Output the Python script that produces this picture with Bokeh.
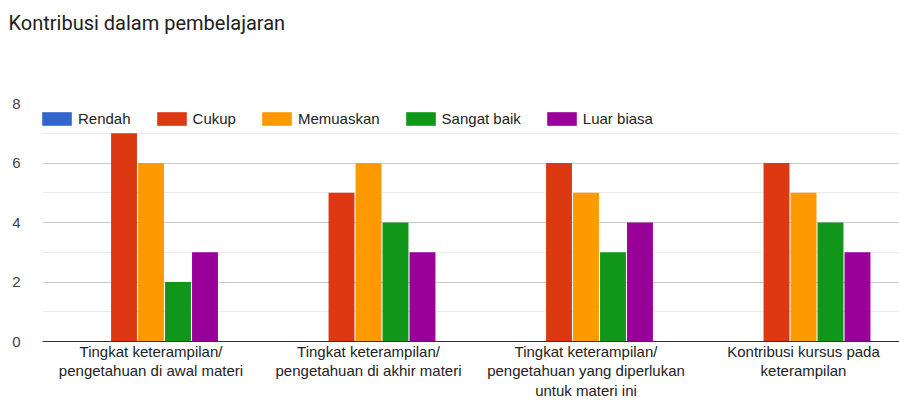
from bokeh.plotting import figure
from bokeh.models import (Range1d, FixedTicker, SingleIntervalTicker, Legend,
                          LegendItem, ColumnDataSource, Title)
from bokeh.transform import dodge
from bokeh.embed import file_html
from bokeh.resources import INLINE

title = "Kontribusi dalam pembelajaran"
categories = [
    "Tingkat keterampilan/\npengetahuan di awal materi",
    "Tingkat keterampilan/\npengetahuan di akhir materi",
    "Tingkat keterampilan/\npengetahuan yang diperlukan\nuntuk materi ini",
    "Kontribusi kursus pada\nketerampilan",
]
series = ["Rendah", "Cukup", "Memuaskan", "Sangat baik", "Luar biasa"]
rendah = [0, 0, 0, 0]
cukup = [7, 5, 6, 6]
memuaskan = [6, 6, 5, 5]
sangat_baik = [2, 4, 3, 4]
luar_biasa = [3, 3, 4, 3]
colors = ["#3366cc", "#dc3912", "#ff9900", "#109618", "#990099"]

values = [rendah, cukup, memuaskan, sangat_baik, luar_biasa]
keys = ["s0", "s1", "s2", "s3", "s4"]
xs = list(range(len(categories)))
data = {"x": xs}
for k, v in zip(keys, values):
    data[k] = v
src = ColumnDataSource(data)

W, H = 899, 401
p = figure(width=W, height=H, output_backend="svg", toolbar_location=None,
           x_range=Range1d(-0.4989, 3.4414), y_range=Range1d(0, 8),
           min_border_left=42, min_border_right=0, min_border_top=103,
           min_border_bottom=59)
p.outline_line_color = None

# real title (outermost panel)
p.title.text = title
p.title.text_font = "Roboto"
p.title.text_font_size = "20px"
p.title.text_font_style = "normal"
p.title.text_color = "#212121"
p.title.align = "left"
p.title.offset = -34
p.title.standoff = 0

# spacer between title and plot frame
p.add_layout(Title(text=" ", text_font="Roboto", text_font_size="20px",
                   standoff=43), "above")

step = 0.1241
renderers = []
for j, (k, c) in enumerate(zip(keys, colors)):
    r = p.vbar(x=dodge("x", (j - 2) * step, range=p.x_range), top=k, width=step - 0.005,
               source=src, fill_color=c, line_color=None)
    renderers.append(r)

# y axis
p.yaxis.ticker = SingleIntervalTicker(interval=2, num_minor_ticks=2)
p.yaxis.axis_line_color = None
p.yaxis.major_tick_line_color = None
p.yaxis.minor_tick_line_color = None
p.yaxis.major_label_standoff = 16
p.yaxis.major_label_text_font = "Liberation Sans"
p.yaxis.major_label_text_font_size = "15px"
p.yaxis.major_label_text_color = "#444444"

# x axis with category labels
p.xaxis.ticker = FixedTicker(ticks=xs)
p.xaxis.major_label_overrides = {x: c for x, c in zip(xs, categories)}
p.xaxis.axis_line_color = "#333333"
p.xaxis.axis_line_width = 1
p.xaxis.major_tick_line_color = None
p.xaxis.minor_tick_line_color = None
p.xaxis.major_tick_out = 0
p.xaxis.major_label_standoff = 1
p.xaxis.major_label_text_font = "Liberation Sans"
p.xaxis.major_label_text_font_size = "15px"
p.xaxis.major_label_text_line_height = 1.15
p.xaxis.major_label_text_color = "#222222"

p.xgrid.grid_line_color = None
p.ygrid.grid_line_color = "#cccccc"
p.ygrid.minor_grid_line_color = "#ebebeb"

legend = Legend(items=[LegendItem(label=s, renderers=[r]) for s, r in zip(series, renderers)],
                orientation="horizontal", location=(-4, 214), padding=0, margin=0,
                glyph_width=37, glyph_height=17, label_height=17, label_standoff=3,
                spacing=22, border_line_color=None, background_fill_alpha=0,
                label_text_font="Liberation Sans", label_text_font_size="15px",
                label_text_color="#222222")
p.add_layout(legend)

open("out.html", "w").write(file_html(p, INLINE))
